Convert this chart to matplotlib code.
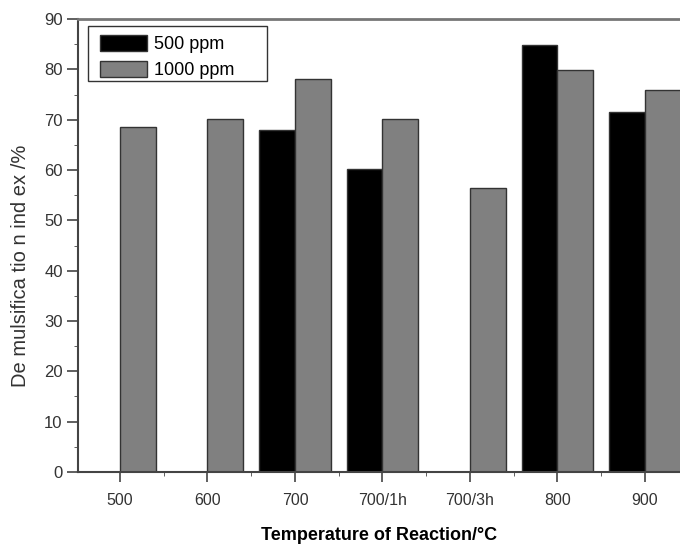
import matplotlib.pyplot as plt
import numpy as np
import matplotlib.patches as mpatches
from matplotlib.ticker import MultipleLocator

plt.rcParams['font.family'] = ['Liberation Sans', 'DejaVu Sans']

categories = ["500", "600", "700", "700/1h", "700/3h", "800", "900"]
ppm500 = [np.nan, np.nan, 68.0, 60.2, np.nan, 84.8, 71.6]
ppm1000 = [68.5, 70.2, 78.1, 70.2, 56.5, 79.9, 75.9]

x = np.arange(len(categories))
w = 0.41

fig = plt.figure(figsize=(6.8, 5.44), dpi=100)
ax = fig.add_axes([0.1147, 0.1324, 0.8853, 0.8326])

ax.bar(x, ppm500, width=-w, align="edge", color="black", edgecolor="#333333", linewidth=1)
ax.bar(x, ppm1000, width=w, align="edge", color="#808080", edgecolor="#333333", linewidth=1)

ax.set_xlim(-0.48, 6.4)
ax.set_ylim(0, 90)
ax.set_xticks(x)
ax.set_xticklabels(categories, fontsize=11.5, color="#333333")
ax.xaxis.set_minor_locator(MultipleLocator(1, offset=0.5))
ax.yaxis.set_major_locator(MultipleLocator(10))
ax.yaxis.set_minor_locator(MultipleLocator(5))
ax.tick_params(axis="y", labelsize=12, labelcolor="#333333", direction="out", length=8, width=1.2,
               color="#444444", pad=3)
ax.tick_params(axis="y", which="minor", length=3, color="#444444")
ax.tick_params(axis="x", direction="out", length=7, width=1.2, color="#444444", pad=8)
ax.tick_params(axis="x", which="minor", length=3, color="#444444")

ax.spines["right"].set_visible(False)
ax.spines["top"].set_color("#777777")
ax.spines["top"].set_linewidth(2)
ax.spines["left"].set_color("#444444")
ax.spines["left"].set_linewidth(1.5)
ax.spines["bottom"].set_color("#444444")
ax.spines["bottom"].set_linewidth(1.5)

ax.set_xlabel("Temperature of Reaction/°C", fontsize=13, fontweight="bold", labelpad=14)
ax.set_ylabel("De mulsifica tio n ind ex /%", fontsize=14.5, color="#333333")
ax.yaxis.set_label_coords(-0.08, 0.455)

# legend frame drawn separately (wider than the entries, as in the original)
ax.add_patch(mpatches.Rectangle((0.0166, 0.863), 0.2974, 0.1216, transform=ax.transAxes,
                                facecolor="white", edgecolor="#333333", linewidth=1, zorder=4))
black_patch = mpatches.Patch(facecolor="black", edgecolor="#333333", label="500 ppm")
gray_patch = mpatches.Patch(facecolor="#808080", edgecolor="#333333", label="1000 ppm")
leg = ax.legend(handles=[black_patch, gray_patch], loc="upper left", bbox_to_anchor=(0.0365, 0.9647),
                fontsize=13, frameon=False, handlelength=2.6, handleheight=1.0,
                borderaxespad=0.0, borderpad=0.0, labelspacing=0.4, handletextpad=0.4)
leg.set_zorder(5)

fig.savefig("out.png", dpi=100)
